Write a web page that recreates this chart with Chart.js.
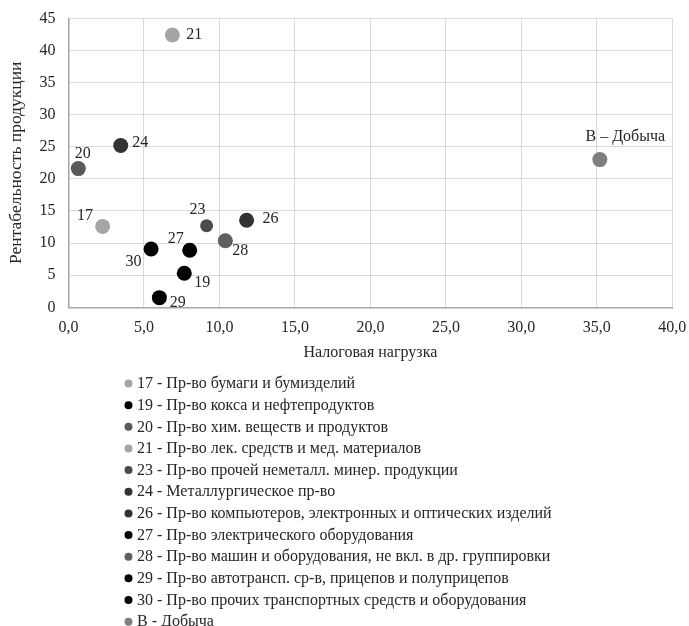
<!DOCTYPE html>
<html lang="ru">
<head>
<meta charset="utf-8">
<title>Налоговая нагрузка и рентабельность продукции</title>
<script src="https://cdn.jsdelivr.net/npm/chart.js@4/dist/chart.umd.min.js"></script>
<style>
  html, body { margin: 0; padding: 0; background: #ffffff; }
  canvas { display: block; }
</style>
</head>
<body>
<canvas id="chart" width="689" height="626"></canvas>
<script>
// Industry codes (ОКВЭД) and names
const codes = ['17', '19', '20', '21', '23', '24', '26', '27', '28', '29', '30', 'В'];
const names = [
  'Пр-во бумаги и бумизделий',
  'Пр-во кокса и нефтепродуктов',
  'Пр-во хим. веществ и продуктов',
  'Пр-во лек. средств и мед. материалов',
  'Пр-во прочей неметалл. минер. продукции',
  'Металлургическое пр-во',
  'Пр-во компьютеров, электронных и оптических изделий',
  'Пр-во электрического оборудования',
  'Пр-во машин и оборудования, не вкл. в др. группировки',
  'Пр-во автотрансп. ср-в, прицепов и полуприцепов',
  'Пр-во прочих транспортных средств и оборудования',
  'Добыча'
];
// Tax burden (x) and product profitability (y), %
const taxBurden     = [2.26, 7.67, 0.65, 6.88, 9.15, 3.46, 11.8, 8.03, 10.39, 6.02, 5.47, 35.2];
const profitability = [12.6, 5.3, 21.6, 42.4, 12.7, 25.2, 13.55, 8.88, 10.37, 1.5, 9.08, 23.0];
// Text shown next to each point
const pointLabels = ['17', '19', '20', '21', '23', '24', '26', '27', '28', '29', '30', 'В – Добыча'];

// Marker styling
const markerColors = ['#a5a5a5', '#000000', '#5a5a5a', '#a5a5a5', '#4b4b4b', '#333333',
                      '#333333', '#000000', '#5f5f5f', '#000000', '#000000', '#7f7f7f'];
const markerRadius = [7.5, 7.5, 7.5, 7.5, 6.5, 7.5, 7.5, 7.5, 7.5, 7.5, 7.5, 7.5];
// Point label placement relative to the marker centre, px
const labelShift = [[-17.5, -10.5], [18, 9.5], [4.5, -14.5], [22, 0], [-9, -15.5], [19.5, -3],
                    [24, -1.5], [-14, -11], [15, 10.5], [18.5, 5], [-17.5, 12.5], [25.5, -22.5]];

const FONT = "'Liberation Serif', 'Times New Roman', serif";
const TEXT = '#262626';

const datasets = codes.map((code, i) => ({
  label: code + ' - ' + names[i],
  data: [{ x: taxBurden[i], y: profitability[i] }],
  backgroundColor: markerColors[i],
  borderWidth: 0,
  pointRadius: markerRadius[i],
  pointHoverRadius: markerRadius[i],
  clip: false
}));

// Writes the code next to every marker
const pointLabelPlugin = {
  id: 'pointLabels',
  afterDatasetsDraw(chart) {
    const ctx = chart.ctx;
    ctx.save();
    ctx.font = '16px ' + FONT;
    ctx.fillStyle = TEXT;
    ctx.textAlign = 'center';
    ctx.textBaseline = 'middle';
    chart.data.datasets.forEach((ds, i) => {
      const el = chart.getDatasetMeta(i).data[0];
      ctx.fillText(pointLabels[i], el.x + labelShift[i][0], el.y + labelShift[i][1]);
    });
    ctx.restore();
  }
};

// Single-column legend under the plot
const columnLegendPlugin = {
  id: 'columnLegend',
  afterDraw(chart) {
    const ctx = chart.ctx;
    const top = 383.5, step = 21.65, markX = 128.5, textX = 137;
    ctx.save();
    ctx.font = '16px ' + FONT;
    ctx.textAlign = 'left';
    ctx.textBaseline = 'middle';
    chart.data.datasets.forEach((ds, i) => {
      const y = top + i * step;
      ctx.fillStyle = ds.backgroundColor;
      ctx.beginPath();
      ctx.arc(markX, y, 4, 0, Math.PI * 2);
      ctx.fill();
      ctx.fillStyle = TEXT;
      ctx.fillText(ds.label, textX, y + 0.5);
    });
    ctx.restore();
  }
};

new Chart(document.getElementById('chart'), {
  type: 'scatter',
  data: { datasets },
  plugins: [pointLabelPlugin, columnLegendPlugin],
  options: {
    responsive: false,
    animation: false,
    events: [],
    layout: { padding: { top: 18.3, right: 16.7, bottom: 258.7, left: 0 } },
    plugins: { legend: { display: false }, tooltip: { enabled: false } },
    scales: {
      x: {
        type: 'linear',
        min: 0, max: 40,
        afterFit(scale) {
          scale.height = 60;
          scale.paddingLeft = 0;
          scale.paddingRight = 0;
        },
        ticks: {
          stepSize: 5,
          padding: 11,
          color: TEXT,
          font: { family: FONT, size: 16 },
          callback: v => v.toFixed(1).replace('.', ',')
        },
        grid: { color: '#d9d9d9', lineWidth: 1, drawTicks: false },
        border: { color: '#a6a6a6', width: 1.5 },
        title: {
          display: true,
          text: 'Налоговая нагрузка',
          color: TEXT,
          font: { family: FONT, size: 16 },
          padding: { top: 0, bottom: 5 }
        }
      },
      y: {
        min: 0, max: 45,
        afterFit(scale) {
          scale.width = 68.5;
          scale.paddingTop = 0;
          scale.paddingBottom = 0;
        },
        ticks: {
          stepSize: 5,
          padding: 13,
          color: TEXT,
          font: { family: FONT, size: 16 }
        },
        grid: { color: '#d9d9d9', lineWidth: 1, drawTicks: false },
        border: { color: '#a6a6a6', width: 1.5 },
        title: {
          display: true,
          text: 'Рентабельность продукции',
          color: TEXT,
          font: { family: FONT, size: 17.5 },
          padding: { top: 6, bottom: 0 }
        }
      }
    }
  }
});
</script>
</body>
</html>
